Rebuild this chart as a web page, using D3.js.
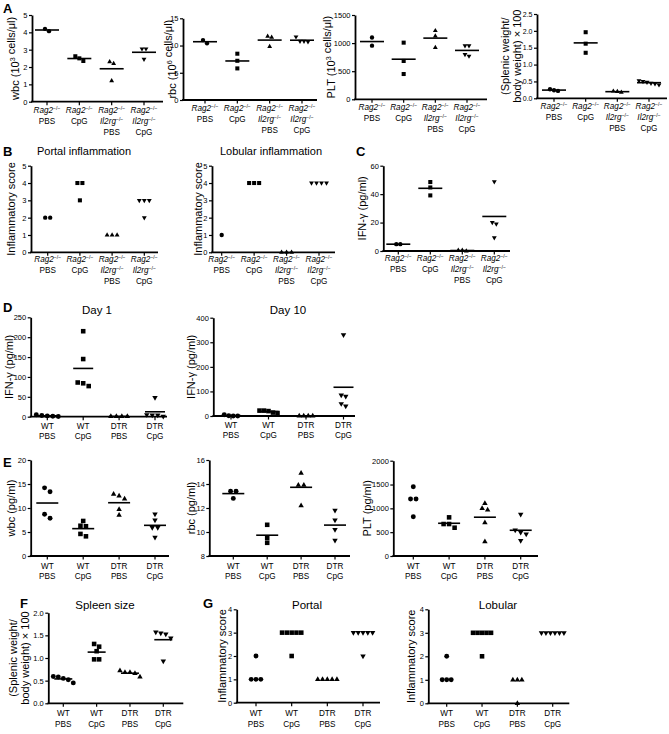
<!DOCTYPE html>
<html><head><meta charset="utf-8">
<script src="https://cdn.jsdelivr.net/npm/d3@7"></script>
<style>
body{margin:0;background:#fff}
svg{display:block}
text{font-family:"Liberation Sans",Arial,Helvetica,sans-serif;fill:#000}
</style>
</head><body>
<svg id="c" width="669" height="734"></svg>
<script>
// ---------------- DATA ----------------
const ragCats = [["Rag2*","PBS"],["Rag2*","CpG"],["Rag2*","Il2rg*","PBS"],["Rag2*","Il2rg*","CpG"]];
const dtrCats = [["WT","PBS"],["WT","CpG"],["DTR","PBS"],["DTR","CpG"]];

const wbcA    = [[4.07,4.2],[2.62,2.35,2.5],[2.3,2.2,1.2],[3.05,3.05,2.45]];
const rbcA    = [[10.4,11.0],[8.5,7.2,5.8],[11.7,11.5,9.8],[10.8,11.6,10.7,10.8]];
const pltA    = [[1100,955],[1008,682,450],[1221,1126,919],[955,955,770,800]];
const spleenA = [[0.22,0.27,0.24],[1.96,1.62,1.35],[0.18,0.2,0.21],[0.52,0.45,0.4,0.48,0.43,0.5]];
const portalB = [[2,2],[4,4,3],[1,1,1],[3,3,3,2]];
const lobularB= [[1],[4,4,4],[0,0,0],[4,4,4,4]];
const ifnC    = [[4.8,4.8],[48.5,44.7,39.1],[0.5,0,0.5],[48.7,20.1,19,9.4]];
const day1D   = [[3,0.5,1,2,5],[215,145,84,77,86],[1,0.5,1,0.5],[48,4,1,4,5]];
const day10D  = [[1,0,0,5],[22,20,22,12,14],[0,0,0,0],[330,80,40,50,85]];
const wbcE    = [[14.2,13.4,7.85,8.7],[4.1,6.3,6.2,7.3,4.6],[12.9,11.9,12.5,9.7,8.5],[8.75,7.5,5.9,5.9,3.9]];
const rbcE    = [[13.4,13.4,12.8],[10.6,9.1,9.5],[14.9,13.9,13.9,12.2],[11.8,11.0,10.2,9.3]];
const pltE    = [[1455,1196,1196,825],[811,671,594,671],[1105,965,1000,699,301],[874,497,462,545,322]];
const spleenF = [[0.55,0.58,0.59,0.45,0.52],[1.31,1.25,1.15,0.97,0.97],[0.68,0.66,0.68,0.58,0.72],[1.55,1.57,1.53,1.44,0.93]];
const portalG = [[2,1,1,1],[3,3,3,3,3,2],[1,1,1,1,1],[3,3,3,3,3,2]];
const lobularG= [[2,1,1,1],[3,3,3,3,3,2],[1,1,1,0],[3,3,3,3,3,3]];

const ticks0to5 = [0,1,2,3,4,5];
const ticksRbcA = [0,5,10,15];
const ticksPltA = [0,500,1000,1500];
const ticksSplA = [0,0.5,1,1.5,2,2.5];
const ticksIfnC = [0,20,40,60];
const ticksD1   = [0,50,100,150,200,250];
const ticksD10  = [0,100,200,300,400];
const ticksWbcE = [0,5,10,15,20];
const ticksRbcE = [8,10,12,14,16];
const ticksPltE = [0,500,1000,1500,2000];
const ticksSplF = [0,0.5,1,1.5,2];
const ticks0to4 = [0,1,2,3,4];

// ---------------- DRAW ----------------
const svg = d3.select("#c");
const shapes = [d3.symbolCircle, d3.symbolSquare, d3.symbolTriangle, d3.symbolTriangle];
const shapeScale = [1, 1.1, 0.68, 0.68];

function swarm(py, gap, thr){
  const idx = d3.range(py.length).sort((a,b)=>py[a]-py[b]);
  const off = new Array(py.length).fill(0);
  let cl = [idx[0]];
  const flush = ()=>{ cl.forEach((k,m)=>{ off[k]=(m-(cl.length-1)/2)*gap; }); };
  for(let m=1;m<idx.length;m++){
    if(py[idx[m]]-py[idx[m-1]] < thr) cl.push(idx[m]);
    else { flush(); cl=[idx[m]]; }
  }
  flush();
  return off;
}

function catLabel(g, x, y0, lines, lh, fs){
  lines.forEach((ln,k)=>{
    const t = g.append("text").attr("x",x).attr("y",y0+k*lh).attr("text-anchor","middle")
      .attr("font-size",fs);
    if(ln.endsWith("*")){
      t.append("tspan").attr("font-style","italic").text(ln.slice(0,-1));
      t.append("tspan").attr("font-size",fs*0.62).attr("dy",-3).text("\u2212/\u2212");
    } else t.text(ln);
  });
}

function yLabel(g, x, yc, parts, fs){
  const t = g.append("text").attr("transform",`translate(${x},${yc}) rotate(-90)`)
    .attr("text-anchor","middle").attr("font-size",fs);
  parts.forEach(p=>{
    if(typeof p==="string") t.append("tspan").text(p);
    else {
      t.append("tspan").attr("font-size",fs*0.65).attr("dy",-4).text(p.sup);
      t.append("tspan").attr("dy",4).text("");
    }
  });
}

function panel(o){
  const g = svg.append("g");
  const y = d3.scaleLinear().domain(o.domain).range([o.yBot,o.yTop]);
  const x = d3.scalePoint().domain(d3.range(o.data.length)).range([o.c0,o.c1]);
  const ax = d3.axisLeft(y).tickValues(o.ticks).tickSize(3).tickSizeOuter(0).tickPadding(1.5)
    .tickFormat(o.fmt || d3.format("d"));
  const ga = g.append("g").attr("transform",`translate(${o.ax},0)`).call(ax);
  ga.select(".domain").attr("stroke","#000").attr("stroke-width",1.8);
  ga.selectAll(".tick line").attr("stroke","#000").attr("stroke-width",1.2);
  ga.selectAll(".tick text").attr("font-size",o.tfs||7.5).attr("font-family","Liberation Sans, Arial, sans-serif");
  // x axis
  g.append("line").attr("x1",o.ax-0.9).attr("x2",o.xEnd).attr("y1",o.yBot).attr("y2",o.yBot)
    .attr("stroke","#000").attr("stroke-width",1.8);
  x.domain().forEach(i=>{
    g.append("line").attr("x1",x(i)).attr("x2",x(i)).attr("y1",o.yBot).attr("y2",o.yBot+3.5)
      .attr("stroke","#000").attr("stroke-width",1.2);
  });
  // points
  const size = o.msize || 20;
  o.data.forEach((vals,i)=>{
    const py = vals.map(v=>y(v));
    const off = swarm(py, o.gap||5, o.thr||4.5);
    const sym = d3.symbol().type(shapes[i]).size(size*shapeScale[i]);
    vals.forEach((v,j)=>{
      g.append("path").attr("d",sym())
        .attr("transform",`translate(${x(i)+off[j]},${py[j]})${i===3?" rotate(180)":""}`)
        .attr("fill","#000");
    });
    if(o.mean && !(o.skipMean||[]).includes(i)){
      const m = d3.mean(vals);
      g.append("line").attr("x1",x(i)-o.mean).attr("x2",x(i)+o.mean).attr("y1",y(m)).attr("y2",y(m))
        .attr("stroke","#000").attr("stroke-width",1.6);
    }
  });
  // category labels
  o.cats.forEach((c,i)=>catLabel(g, x(i), o.yBot+o.l0, c, o.lh, o.cfs||8.2));
  // y label
  const yc = (o.yTop+o.yBot)/2;
  yLabel(g, o.ylx, yc, o.ylab, o.yfs||11);
  if(o.ylab2) yLabel(g, o.ylx2, yc, o.ylab2, o.yfs||11);
  if(o.title){
    g.append("text").attr("x",o.tx).attr("y",o.ty).attr("text-anchor","middle")
      .attr("font-size",o.tfs2||11.5).text(o.title);
  }
}

const f1 = d3.format(".1f");
// Row A
panel({data:wbcA, domain:[0,5], ticks:ticks0to5, ax:32, xEnd:163, yTop:15, yBot:101.7, c0:47, c1:144,
  cats:ragCats, l0:11, lh:11, ylab:["wbc (10",{sup:"3"}," cells/\u03bcl)"], ylx:19, mean:12, msize:15, gap:4});
panel({data:rbcA, domain:[0,15], ticks:ticksRbcA, ax:183, xEnd:317, yTop:18.3, yBot:100, c0:205, c1:302,
  cats:ragCats, l0:11, lh:11, ylab:["rbc (10",{sup:"6"}," cells/\u03bcl)"], ylx:176, mean:12, msize:15, gap:4});
panel({data:pltA, domain:[0,1500], ticks:ticksPltA, ax:355, xEnd:487, yTop:15, yBot:99.3, c0:372, c1:467,
  cats:ragCats, l0:11, lh:11, ylab:["PLT (10",{sup:"3"}," cells/\u03bcl)"], ylx:335, mean:12, msize:15, gap:4});
panel({data:spleenA, domain:[0,2.5], ticks:ticksSplA, fmt:f1, tfs:7, ax:537, xEnd:667, yTop:14, yBot:98.3, c0:554, c1:649,
  cats:ragCats, l0:11, lh:11, ylab:["(Splenic weight/"], ylab2:["body weight) \u00d7 100"], ylx:509, ylx2:520.5, mean:12, msize:15, gap:4});
// Row B/C
panel({data:portalB, domain:[0,5], ticks:ticks0to5, ax:31, xEnd:158, yTop:165.7, yBot:252.3, c0:47.7, c1:144.3,
  cats:ragCats, l0:10, lh:11, ylab:["Inflammatory score"], ylx:15, msize:15, gap:5,
  title:"Portal inflammation", tx:84, ty:155, tfs2:11});
panel({data:lobularB, domain:[0,5], ticks:ticks0to5, ax:212, xEnd:335, yTop:165.7, yBot:252.3, c0:221.7, c1:319,
  cats:ragCats, l0:10, lh:11, ylab:["Inflammatory score"], ylx:202, msize:15, gap:5,
  title:"Lobular inflammation", tx:271, ty:155, tfs2:11});
panel({data:ifnC, domain:[0,60], ticks:ticksIfnC, ax:383.3, xEnd:510, yTop:165.7, yBot:251, c0:398.3, c1:494.3,
  cats:ragCats, l0:10, lh:11, ylab:["IFN-\u03b3 (pg/ml)"], ylx:366, mean:12, msize:15, gap:4});
// Row D
panel({data:day1D, domain:[0,250], ticks:ticksD1, ax:30.7, xEnd:167, yTop:317.3, yBot:416.7, c0:47.3, c1:155,
  cats:dtrCats, l0:12, lh:10, ylab:["IFN-\u03b3 (pg/ml)"], ylx:13, mean:10, msize:19, gap:5.5,
  title:"Day 1", tx:97, ty:314});
panel({data:day10D, domain:[0,400], ticks:ticksD10, ax:213.3, xEnd:355, yTop:317.7, yBot:416, c0:231, c1:343.5,
  cats:dtrCats, l0:12, lh:10, ylab:["IFN-\u03b3 (pg/ml)"], ylx:195, mean:10, msize:19, gap:4.5,
  title:"Day 10", tx:288, ty:314});
// Row E
panel({data:wbcE, domain:[0,20], ticks:ticksWbcE, ax:30.7, xEnd:169, yTop:460, yBot:556, c0:47.3, c1:155,
  cats:dtrCats, l0:12.5, lh:10, ylab:["wbc (pg/ml)"], ylx:15, mean:11, msize:19, gap:5.5});
panel({data:rbcE, domain:[8,16], ticks:ticksRbcE, ax:209.3, xEnd:350, yTop:460, yBot:556, c0:233.3, c1:335,
  cats:dtrCats, l0:12.5, lh:10, ylab:["rbc (pg/ml)"], ylx:195, mean:11, msize:19, gap:5.5});
panel({data:pltE, domain:[0,2000], ticks:ticksPltE, ax:393.3, xEnd:538, yTop:460.7, yBot:556, c0:413.3, c1:520.7,
  cats:dtrCats, l0:12.5, lh:10, ylab:["PLT (pg/ml)"], ylx:371, mean:11, msize:19, gap:5.5, skipMean:[0]});
// Row F/G
panel({data:spleenF, domain:[0,2], ticks:ticksSplF, fmt:f1, ax:48.3, xEnd:183.3, yTop:612.7, yBot:703.3, c0:63.3, c1:163.3,
  cats:dtrCats, l0:13, lh:11, ylab:["(Splenic weight/"], ylab2:["body weight) \u00d7 100"], ylx:17, ylx2:29, mean:9, msize:19, gap:5,
  title:"Spleen size", tx:105, ty:609});
panel({data:portalG, domain:[0,4], ticks:ticks0to4, ax:236.7, xEnd:380, yTop:609.3, yBot:702.7, c0:256, c1:363,
  cats:dtrCats, l0:13, lh:11, ylab:["Inflammatory score"], ylx:226, msize:19, gap:4.8,
  title:"Portal", tx:307, ty:609});
panel({data:lobularG, domain:[0,4], ticks:ticks0to4, ax:428.3, xEnd:569.3, yTop:609.3, yBot:703.3, c0:446.7, c1:552.7,
  cats:dtrCats, l0:13, lh:11, ylab:["Inflammatory score"], ylx:415, msize:19, gap:4.5,
  title:"Lobular", tx:498, ty:609});

// panel letters
const letters = [["A",3,13],["B",3,156],["C",356,156],["D",3,312],["E",3,467],["F",20,608],["G",203,608]];
letters.forEach(([t,x,y])=>svg.append("text").attr("x",x).attr("y",y).attr("font-size",13)
  .attr("font-weight","bold").text(t));
</script>
</body></html>
